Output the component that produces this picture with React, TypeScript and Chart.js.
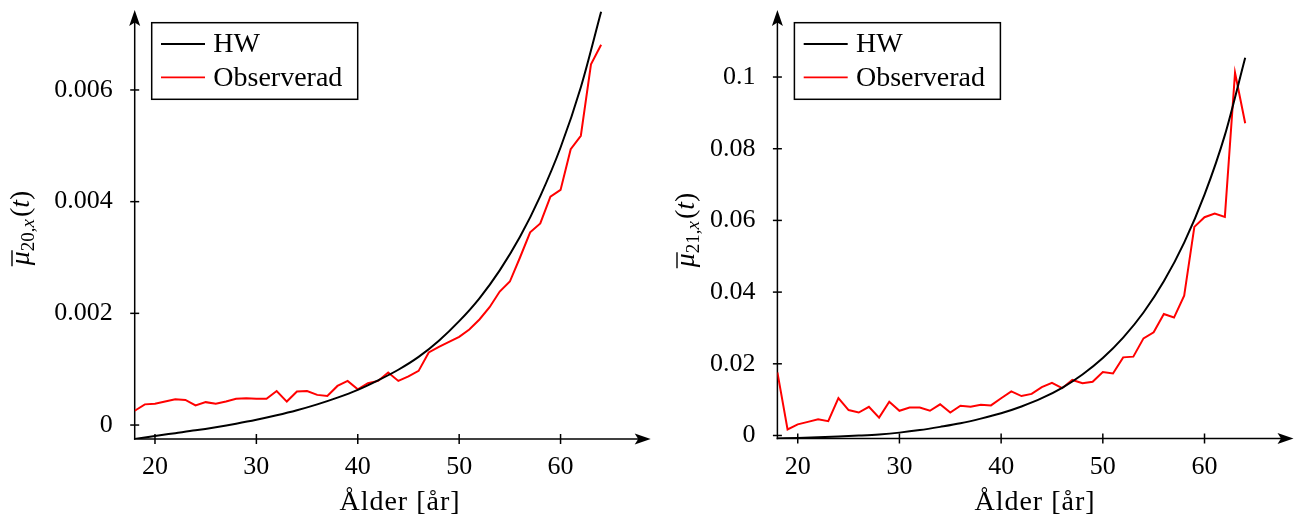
import React, { useEffect, useRef } from "react";
import { Chart, registerables } from "chart.js";

Chart.register(...registerables);

const FONT = "'Liberation Serif', 'Times New Roman', serif";

// ages of the observed series (one per year)
const OBS_AGES = [
  18, 19, 20, 21, 22, 23, 24, 25, 26, 27, 28, 29, 30, 31, 32, 33, 34, 35, 36, 37, 38, 39, 40, 41,
  42, 43, 44, 45, 46, 47, 48, 49, 50, 51, 52, 53, 54, 55, 56, 57, 58, 59, 60, 61, 62, 63, 64,
];

// ages where the HW curve was read
const HW_AGES = [18, 20, 22, 24, 26, 28, 30, 32, 34, 36, 38, 40, 42, 44, 46, 48, 50, 52, 54, 56, 58, 60, 62, 64];

// left panel: mu_{20,x}(t)
const HW_20 = [
  -0.00025, -0.000195, -0.000145, -0.000095, -0.000038, 0.000025, 0.000095, 0.000175, 0.000265, 0.00037,
  0.00049, 0.00063, 0.0008, 0.00099, 0.00122, 0.00151, 0.00186, 0.00227, 0.00277, 0.00337, 0.0041, 0.00497,
  0.00605, 0.0074,
];
const OBS_20 = [
  0.000256, 0.00037, 0.00038, 0.00042, 0.00046, 0.00045, 0.00035, 0.00041, 0.00038, 0.00042, 0.00047, 0.00048,
  0.00047, 0.00047, 0.00061, 0.00042, 0.0006, 0.00061, 0.00054, 0.00052, 0.0007, 0.00079, 0.00064, 0.00075,
  0.00079, 0.00094, 0.00079, 0.00087, 0.00097, 0.0013, 0.0014, 0.00149, 0.00158, 0.00171, 0.00189, 0.00211,
  0.00239, 0.00257, 0.003, 0.00345, 0.00361, 0.00409, 0.00421, 0.00494, 0.00518, 0.00646, 0.00681,
];

// right panel: mu_{21,x}(t)
const HW_21 = [
  -0.00084, -0.0007, -0.00052, -0.0003, -0.00003, 0.0003, 0.0008, 0.0015, 0.0024, 0.0034, 0.0047, 0.0062,
  0.0081, 0.0104, 0.0133, 0.017, 0.0216, 0.0273, 0.0343, 0.043, 0.0538, 0.0672, 0.0838, 0.1054,
];
const OBS_21 = [
  0.0176, 0.0017, 0.0031, 0.0038, 0.0045, 0.004, 0.0104, 0.0071, 0.0064, 0.008, 0.005, 0.0094, 0.0069, 0.0078,
  0.0078, 0.0069, 0.0087, 0.0064, 0.0083, 0.008, 0.0086, 0.0084, 0.0104, 0.0123, 0.011, 0.0116, 0.0135,
  0.0147, 0.0132, 0.0155, 0.0146, 0.015, 0.0177, 0.0173, 0.0218, 0.022, 0.0271, 0.0288, 0.0339, 0.0329,
  0.039, 0.0582, 0.0609, 0.0619, 0.061, 0.1012, 0.0871,
];

const X_TICKS = [20, 30, 40, 50, 60];
const Y_TICKS_20 = [0, 0.002, 0.004, 0.006];
const Y_TICK_LABELS_20 = ["0", "0.002", "0.004", "0.006"];
const Y_TICKS_21 = [0, 0.02, 0.04, 0.06, 0.08, 0.1];
const Y_TICK_LABELS_21 = ["0", "0.02", "0.04", "0.06", "0.08", "0.1"];

const SERIES_NAMES = ["HW", "Observerad"];
const X_TITLE = "Ålder [år]";

type PanelCfg = {
  pageLeft: number;
  width: number;
  height: number;
  areaLeft: number;
  areaRight: number;
  areaTop: number;
  areaBottom: number;
  xMin: number;
  xMax: number;
  yMin: number;
  yMax: number;
  yTicks: number[];
  yTickLabels: string[];
  yTickPad: number;
  hw: number[];
  obs: number[];
  sub: string;
  yTitleX: number;
  yTitleY: number;
  xTitleX: number;
  xTitleY: number;
  arrowTipY: number;
};

function drawArrow(ctx: CanvasRenderingContext2D, tx: number, ty: number, dir: "up" | "right") {
  const L = 16;
  const W = 5.5;
  const N = 12.5;
  ctx.beginPath();
  if (dir === "up") {
    ctx.moveTo(tx, ty);
    ctx.lineTo(tx - W, ty + L);
    ctx.lineTo(tx, ty + N);
    ctx.lineTo(tx + W, ty + L);
  } else {
    ctx.moveTo(tx, ty);
    ctx.lineTo(tx - L, ty - W);
    ctx.lineTo(tx - N, ty);
    ctx.lineTo(tx - L, ty + W);
  }
  ctx.closePath();
  ctx.fillStyle = "#000";
  ctx.fill();
}

function makeOverlay(cfg: PanelCfg) {
  return {
    id: "overlay" + cfg.sub,
    beforeDatasetsDraw(chart: any) {
      const ctx: CanvasRenderingContext2D = chart.ctx;
      const area = chart.chartArea;
      const xs = chart.scales.x;
      const ys = chart.scales.y;
      ctx.save();
      ctx.strokeStyle = "#000";
      ctx.lineWidth = 1.5;
      // tick marks
      for (const v of cfg.yTicks) {
        const py = ys.getPixelForValue(v);
        ctx.beginPath();
        ctx.moveTo(area.left - 4.5, py);
        ctx.lineTo(area.left + 4.5, py);
        ctx.stroke();
      }
      for (const v of X_TICKS) {
        const px = xs.getPixelForValue(v);
        ctx.beginPath();
        ctx.moveTo(px, area.bottom - 5);
        ctx.lineTo(px, area.bottom + 5);
        ctx.stroke();
      }
      // axis lines
      ctx.beginPath();
      ctx.moveTo(area.left, area.bottom + 0.75);
      ctx.lineTo(area.left, cfg.arrowTipY + 12);
      ctx.stroke();
      ctx.beginPath();
      ctx.moveTo(area.left - 0.75, area.bottom);
      ctx.lineTo(area.right - 12, area.bottom);
      ctx.stroke();
      drawArrow(ctx, area.left, cfg.arrowTipY, "up");
      drawArrow(ctx, area.right, area.bottom, "right");
      ctx.restore();
    },
    afterDraw(chart: any) {
      const ctx: CanvasRenderingContext2D = chart.ctx;
      const area = chart.chartArea;
      ctx.save();
      // legend
      const x0 = area.left + 17;
      const y0 = 22.7;
      ctx.fillStyle = "#fff";
      ctx.fillRect(x0, y0, 206, 76.6);
      ctx.strokeStyle = "#000";
      ctx.lineWidth = 1.5;
      ctx.strokeRect(x0, y0, 206, 76.6);
      const rows = [
        { y: 44, color: "#000", label: SERIES_NAMES[0] },
        { y: 77.3, color: "#ff0000", label: SERIES_NAMES[1] },
      ];
      ctx.font = `28px ${FONT}`;
      ctx.textBaseline = "middle";
      ctx.textAlign = "left";
      for (const r of rows) {
        ctx.strokeStyle = r.color;
        ctx.lineWidth = 1.8;
        ctx.beginPath();
        ctx.moveTo(x0 + 9.3, r.y);
        ctx.lineTo(x0 + 53.3, r.y);
        ctx.stroke();
        ctx.fillStyle = "#000";
        ctx.fillText(r.label, x0 + 61.6, r.y + 1);
      }
      // x title
      ctx.textAlign = "center";
      (ctx as any).letterSpacing = "1px";
      ctx.fillText(X_TITLE, cfg.xTitleX, cfg.xTitleY);
      (ctx as any).letterSpacing = "0px";
      // y title
      ctx.translate(cfg.yTitleX, cfg.yTitleY);
      ctx.rotate(-Math.PI / 2);
      ctx.textBaseline = "alphabetic";
      ctx.textAlign = "left";
      const parts = [
        { t: "μ", f: `italic 28px ${FONT}`, dy: 0 },
        { t: cfg.sub + ",", f: `19px ${FONT}`, dy: 5 },
        { t: "x", f: `italic 19px ${FONT}`, dy: 5 },
        { t: "(", f: `28px ${FONT}`, dy: 0 },
        { t: "t", f: `italic 28px ${FONT}`, dy: 0 },
        { t: ")", f: `28px ${FONT}`, dy: 0 },
      ];
      let total = 0;
      const widths: number[] = [];
      for (const p of parts) {
        ctx.font = p.f;
        const w = ctx.measureText(p.t).width + (p.t === "x" ? 2 : 0);
        widths.push(w);
        total += w;
      }
      let cx = -total / 2;
      ctx.fillStyle = "#000";
      parts.forEach((p, i) => {
        ctx.font = p.f;
        ctx.fillText(p.t, cx, p.dy);
        if (i === 0) {
          ctx.strokeStyle = "#000";
          ctx.lineWidth = 1.4;
          ctx.beginPath();
          ctx.moveTo(cx - 1, -17);
          ctx.lineTo(cx + widths[0] + 1, -17);
          ctx.stroke();
        }
        cx += widths[i];
      });
      ctx.restore();
    },
  };
}

function Panel({ cfg }: { cfg: PanelCfg }) {
  const ref = useRef<HTMLCanvasElement | null>(null);
  useEffect(() => {
    if (!ref.current) return;
    const zeroPad = (s: any) => {
      s.paddingTop = 0;
      s.paddingBottom = 0;
      s.paddingLeft = 0;
      s.paddingRight = 0;
    };
    const chart = new Chart(ref.current, {
      type: "line",
      data: {
        datasets: [
          {
            label: SERIES_NAMES[0],
            data: HW_AGES.map((a, i) => ({ x: a, y: cfg.hw[i] })),
            borderColor: "#000",
            borderWidth: 2,
            pointRadius: 0,
            cubicInterpolationMode: "monotone",
            fill: false,
          },
          {
            label: SERIES_NAMES[1],
            data: OBS_AGES.map((a, i) => ({ x: a, y: cfg.obs[i] })),
            borderColor: "#ff0000",
            borderWidth: 2,
            pointRadius: 0,
            tension: 0,
            fill: false,
          },
        ],
      },
      options: {
        responsive: false,
        maintainAspectRatio: false,
        animation: false,
        devicePixelRatio: 1,
        layout: {
          padding: {
            left: 0,
            top: cfg.areaTop,
            right: cfg.width - cfg.areaRight,
            bottom: 0,
          },
        },
        plugins: {
          legend: { display: false },
          tooltip: { enabled: false },
          title: { display: false },
        },
        scales: {
          x: {
            type: "linear",
            min: cfg.xMin,
            max: cfg.xMax,
            grid: { display: false },
            border: { display: false },
            afterBuildTicks: (s: any) => {
              s.ticks = X_TICKS.map((v) => ({ value: v }));
            },
            afterFit: (s: any) => {
              s.height = cfg.height - cfg.areaBottom;
              zeroPad(s);
            },
            ticks: {
              padding: 5,
              maxRotation: 0,
              autoSkip: false,
              color: "#000",
              font: { family: FONT, size: 26 },
              callback: (v: any) => String(v),
            },
          },
          y: {
            type: "linear",
            min: cfg.yMin,
            max: cfg.yMax,
            grid: { display: false },
            border: { display: false },
            afterBuildTicks: (s: any) => {
              s.ticks = cfg.yTicks.map((v) => ({ value: v }));
            },
            afterFit: (s: any) => {
              s.width = cfg.areaLeft;
              zeroPad(s);
            },
            ticks: {
              padding: cfg.yTickPad,
              autoSkip: false,
              color: "#000",
              font: { family: FONT, size: 26 },
              callback: (v: any) => {
                const idx = cfg.yTicks.findIndex((t) => Math.abs(t - Number(v)) < 1e-9);
                return idx >= 0 ? cfg.yTickLabels[idx] : "";
              },
            },
          },
        },
      },
      plugins: [makeOverlay(cfg)],
    } as any);
    return () => chart.destroy();
  }, [cfg]);
  return (
    <canvas
      ref={ref}
      width={cfg.width}
      height={cfg.height}
      style={{ position: "absolute", left: cfg.pageLeft, top: 0, width: cfg.width, height: cfg.height }}
    />
  );
}

const LEFT_CFG: PanelCfg = {
  pageLeft: 0,
  width: 660,
  height: 524,
  areaLeft: 134.7,
  areaRight: 650.7,
  areaTop: 6.2,
  areaBottom: 439,
  xMin: 18,
  xMax: 68.89,
  yMin: -0.00025,
  yMax: 0.0075,
  yTicks: Y_TICKS_20,
  yTickLabels: Y_TICK_LABELS_20,
  yTickPad: 14,
  hw: HW_20,
  obs: OBS_20,
  sub: "20",
  yTitleX: 29,
  yTitleY: 228,
  xTitleX: 400,
  xTitleY: 503,
  arrowTipY: 10,
};

const RIGHT_CFG: PanelCfg = {
  pageLeft: 650,
  width: 648,
  height: 524,
  areaLeft: 127.4,
  areaRight: 643.5,
  areaTop: 10,
  areaBottom: 438.5,
  xMin: 18,
  xMax: 68.75,
  yMin: -0.00084,
  yMax: 0.1187,
  yTicks: Y_TICKS_21,
  yTickLabels: Y_TICK_LABELS_21,
  yTickPad: 14,
  hw: HW_21,
  obs: OBS_21,
  sub: "21",
  yTitleX: 44,
  yTitleY: 230,
  xTitleX: 385,
  xTitleY: 503,
  arrowTipY: 10,
};

export default function App() {
  return (
    <div style={{ position: "absolute", left: 0, top: 0, width: 1298, height: 524, background: "#fff" }}>
      <Panel cfg={LEFT_CFG} />
      <Panel cfg={RIGHT_CFG} />
    </div>
  );
}
